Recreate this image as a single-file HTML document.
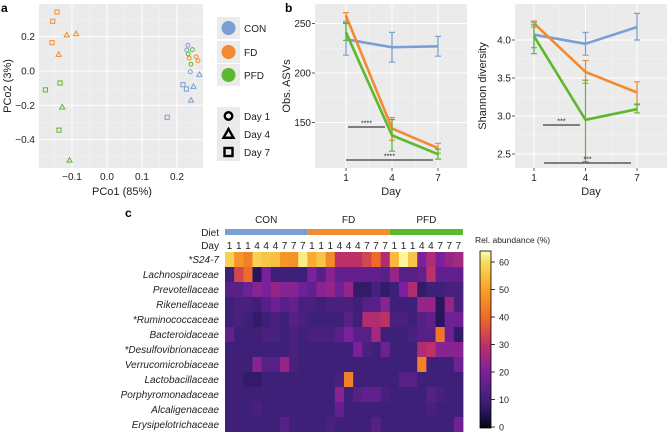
<!DOCTYPE html>
<html><head><meta charset="utf-8"><style>
body{margin:0;background:#fff;font-family:"Liberation Sans",sans-serif}
svg{display:block}
text{font-family:"Liberation Sans",sans-serif}
</style></head><body>
<svg id="fig" width="668" height="432" viewBox="0 0 668 432"></svg>
<script>
// ---- Panel a data ----
const pcoaGroups=['CON','CON','CON','CON','CON','CON','CON','CON','CON','FD','FD','FD','FD','FD','FD','PFD','PFD','PFD','PFD','PFD','PFD','PFD','PFD'];
const pcoaDays=[1,1,1,4,4,4,7,7,7,1,1,1,4,4,4,1,1,1,4,4,7,7,7];
const pcoaX=[0.231,0.228,0.238,0.264,0.247,0.24,0.217,0.227,0.172,0.235,0.255,0.26,-0.115,-0.088,-0.138,0.244,0.232,0.24,-0.128,-0.107,-0.134,-0.176,-0.137];
const pcoaY=[0.15,0.122,-0.005,-0.02,-0.09,-0.17,-0.08,-0.105,-0.27,0.075,0.083,0.06,0.21,0.217,0.097,0.125,0.1,0.04,-0.21,-0.52,-0.07,-0.11,-0.345];
const pcoaFdSqX=[-0.143,-0.155,-0.157];
const pcoaFdSqY=[0.344,0.29,0.165];
const pcoaXTicks=[-0.1,0.0,0.1,0.2];
const pcoaYTicks=[0.2,0.0,-0.2,-0.4];
// ---- Panel b data ----
const days=[1,4,7];
const asvCON=[234,226,227], asvCONlo=[218,211,217], asvCONhi=[251,241,237];
const asvFD=[258,144,124], asvFDlo=[252,132,119], asvFDhi=[261,155,129];
const asvPFD=[241,137,118], asvPFDlo=[233,121,113], asvPFDhi=[250,153,123];
const asvTicks=[150,200,250];
const shCON=[4.07,3.95,4.17], shCONlo=[3.9,3.8,4.0], shCONhi=[4.23,4.1,4.35];
const shFD=[4.22,3.58,3.31], shFDlo=[4.17,3.43,3.16], shFDhi=[4.25,3.73,3.45];
const shPFD=[4.05,2.95,3.09], shPFDlo=[3.82,2.4,3.04], shPFDhi=[4.2,3.47,3.15];
const shTicks=[2.5,3.0,3.5,4.0];
// ---- Panel c data ----
const hmDays=[1,1,1,4,4,4,7,7,7,1,1,1,4,4,4,7,7,7,1,1,1,4,4,7,7,7];
const hmRows=['*S24-7','Lachnospiraceae','Prevotellaceae','Rikenellaceae','*Ruminococcaceae','Bacteroidaceae','*Desulfovibrionaceae','Verrucomicrobiaceae','Lactobacillaceae','Porphyromonadaceae','Alcaligenaceae','Erysipelotrichaceae'];
const hmS24=[58,48,44,58,56,55,48,47,62,52,56,46,30,30,30,34,40,28,54,63,56,20,28,20,24,26];
const hmLachno=[10,34,40,6,20,10,10,10,10,20,14,22,16,16,16,16,16,14,24,14,14,16,30,16,16,16];
const hmPrevo=[14,14,18,22,20,24,22,22,18,16,22,24,18,24,8,8,12,8,10,20,28,8,10,10,12,12];
const hmRiken=[10,12,12,10,14,18,14,16,12,12,10,12,12,12,10,14,14,22,10,10,10,24,24,6,24,12];
const hmRumino=[10,12,10,8,10,12,10,14,12,10,10,10,10,14,10,28,28,30,12,12,10,14,16,6,18,18];
const hmBactero=[16,10,10,10,12,12,10,12,10,12,12,12,14,20,14,14,26,10,10,10,12,14,14,42,18,8];
const hmDesulfo=[10,10,10,10,10,10,10,12,10,10,10,10,10,10,20,12,10,18,10,10,10,28,30,22,22,22];
const hmVerruco=[10,10,10,22,14,14,24,12,10,10,10,10,10,10,10,10,10,10,10,10,10,44,10,10,10,18];
const hmLacto=[10,10,8,8,10,10,10,10,10,10,10,10,12,44,10,10,10,10,10,14,14,10,10,10,10,10];
const hmPorphyro=[10,10,10,10,10,10,10,10,10,10,10,10,22,10,14,16,16,12,10,10,10,10,14,12,10,10];
const hmAlcal=[10,10,10,12,10,10,10,10,10,10,10,10,16,10,10,10,10,10,10,10,10,10,12,10,10,10];
const hmErysi=[10,10,10,10,10,10,14,10,10,10,10,12,10,10,10,10,14,10,10,10,10,10,10,10,10,18];
const cbTicks=[0,10,20,30,40,50,60];

const NS='http://www.w3.org/2000/svg';
const svg=document.getElementById('fig');
const COL={CON:'#7b9fd4',FD:'#f28a30',PFD:'#5cb82f'};
function mk(tag,attrs,parent,text){const e=document.createElementNS(NS,tag);for(const k in attrs)e.setAttribute(k,attrs[k]);if(text!==undefined)e.textContent=text;(parent||svg).appendChild(e);return e;}
function txt(x,y,s,size,anchor,extra){const t=mk('text',Object.assign({x:x,y:y,'font-size':size,'text-anchor':anchor||'start',fill:'#222'},extra||{}),svg,s);return t;}

// ===== Panel a =====
const ax=v=>107+v*350, ay=v=>71-v*171.5;
let el=mk('rect',{x:39,y:4,width:164,height:164,fill:'#ebebeb'});

[-0.15,-0.05,0.05,0.15,0.25].forEach(v=>{el=mk('line',{x1:ax(v),x2:ax(v),y1:4,y2:168,stroke:'#f5f5f5','stroke-width':0.5});});
[0.3,0.1,-0.1,-0.3,-0.5].forEach(v=>{el=mk('line',{y1:ay(v),y2:ay(v),x1:39,x2:203,stroke:'#f5f5f5','stroke-width':0.5});});
pcoaXTicks.forEach(v=>{el=mk('line',{x1:ax(v),x2:ax(v),y1:4,y2:168,stroke:'#fff','stroke-width':1});
 el=txt(ax(v),180,v.toFixed(1).replace('-','\u2212'),10,'middle');});
pcoaYTicks.forEach(v=>{el=mk('line',{y1:ay(v),y2:ay(v),x1:39,x2:203,stroke:'#fff','stroke-width':1});
 el=txt(35,ay(v)+3.5,v.toFixed(1).replace('-','\u2212'),10,'end');});
function shape(day,x,y,c,s,sw){
 if(day===1)return mk('circle',{cx:x,cy:y,r:s*0.75,fill:'none',stroke:c,'stroke-width':sw});
 if(day===4)return mk('polygon',{points:`${x},${y-s} ${x-s},${y+s*0.75} ${x+s},${y+s*0.75}`,fill:'none',stroke:c,'stroke-width':sw});
 return mk('rect',{x:x-s*0.8,y:y-s*0.8,width:s*1.6,height:s*1.6,fill:'none',stroke:c,'stroke-width':sw});
}
pcoaX.forEach((v,i)=>{el=shape(pcoaDays[i],ax(v),ay(pcoaY[i]),COL[pcoaGroups[i]],2.6,1);});
pcoaFdSqX.forEach((v,i)=>{el=shape(7,ax(v),ay(pcoaFdSqY[i]),COL.FD,2.6,1);});
el=txt(122,195,'PCo1 (85%)',11,'middle');
el=txt(0,0,'PCo2 (3%)',11,'middle',{transform:'translate(11,86) rotate(-90)'});
el=txt(1,12,'a',12,'start',{'font-weight':'bold',fill:'#000'});
// legend
[['CON',28],['FD',52],['PFD',75]].forEach(([g,y])=>{
 el=mk('rect',{x:217,y:y-11,width:23,height:22,fill:'#ebebeb'});
 el=mk('circle',{cx:228.5,cy:y,r:7,fill:COL[g]});
 el=txt(244,y+4,g,10,'start');
});
[[1,116],[4,134],[7,152]].forEach(([d,y])=>{
 el=mk('rect',{x:217,y:y-9,width:23,height:18,fill:'#ebebeb'});
 el=shape(d,228.5,y,'#000',5,2.4);
 el=txt(244,y+4,'Day '+d,10,'start');
});

// ===== Panel b =====
function linePanel(name,x0,x1,ys,ticks,tickFmt,series,title,titleX,tickLabX,sig){
 const dx=d=>ys.dx0+(d-1)*(ys.dx1-ys.dx0)/6;
 el=mk('rect',{x:x0,y:4,width:x1-x0,height:164,fill:'#ebebeb'});
 for(let i=0;i<ticks.length-1;i++){const m=(ticks[i]+ticks[i+1])/2;el=mk('line',{x1:x0,x2:x1,y1:ys.f(m),y2:ys.f(m),stroke:'#f5f5f5','stroke-width':0.5});}
 [2.5,5.5].forEach(m=>{el=mk('line',{x1:dx(m),x2:dx(m),y1:4,y2:168,stroke:'#f5f5f5','stroke-width':0.5});});
 ticks.forEach(v=>{el=mk('line',{x1:x0,x2:x1,y1:ys.f(v),y2:ys.f(v),stroke:'#fff','stroke-width':1});
  el=mk('line',{x1:x0-3,x2:x0,y1:ys.f(v),y2:ys.f(v),stroke:'#333','stroke-width':0.8});
  el=txt(tickLabX,ys.f(v)+3.5,tickFmt(v),10,'end');});
 days.forEach(d=>{el=mk('line',{x1:dx(d),x2:dx(d),y1:4,y2:168,stroke:'#fff','stroke-width':1});
  el=mk('line',{x1:dx(d),x2:dx(d),y1:168,y2:171,stroke:'#333','stroke-width':0.8});
  el=txt(dx(d),181,String(d),10,'middle');});
 series.forEach(([g,v,lo,hi])=>{
  days.forEach((d,i)=>{const x=dx(d);
   el=mk('path',{d:`M${x},${ys.f(lo[i])}V${ys.f(hi[i])}M${x-3},${ys.f(lo[i])}h6M${x-3},${ys.f(hi[i])}h6`,stroke:COL[g],'stroke-width':1.2,fill:'none'});});
  el=mk('polyline',{points:days.map((d,i)=>dx(d)+','+ys.f(v[i])).join(' '),stroke:COL[g],'stroke-width':2.6,fill:'none','stroke-linejoin':'round'});
 });
 sig.forEach(([xa,xb,y,s])=>{el=mk('line',{x1:xa,x2:xb,y1:y,y2:y,stroke:'#111','stroke-width':1});
  el=txt((xa+xb)/2,y-1.5,s,7,'middle');});
 el=txt((x0+x1)/2,195,'Day',11,'middle');
 el=txt(0,0,title,11,'middle',{transform:`translate(${titleX},86) rotate(-90)`});
}
linePanel('asv',315,467,{f:v=>73-(v-200)*0.99,dx0:346,dx1:438},asvTicks,v=>String(v),
 [['CON',asvCON,asvCONlo,asvCONhi],['FD',asvFD,asvFDlo,asvFDhi],['PFD',asvPFD,asvPFDlo,asvPFDhi]],'Obs. ASVs',290,311,
 [[348,385,127,'****'],[346,433,160,'****']]);
linePanel('shannon',515,667,{f:v=>40-(v-4)*76,dx0:534,dx1:637},shTicks,v=>v.toFixed(1),
 [['CON',shCON,shCONlo,shCONhi],['FD',shFD,shFDlo,shFDhi],['PFD',shPFD,shPFDlo,shPFDhi]],'Shannon diversity',486,511,
 [[543,580,125,'***'],[544,631,163,'***']]);
el=txt(285,12,'b',12,'start',{'font-weight':'bold',fill:'#000'});

// ===== Panel c heatmap =====
const hmData=[hmS24,hmLachno,hmPrevo,hmRiken,hmRumino,hmBactero,hmDesulfo,hmVerruco,hmLacto,hmPorphyro,hmAlcal,hmErysi];
const stops=[[0,[8,4,24]],[6,[40,22,92]],[10,[62,32,120]],[20,[122,32,156]],[30,[190,48,104]],[40,[238,106,40]],[50,[249,160,40]],[60,[246,222,92]],[64,[252,252,176]]];
function cmap(v){for(let i=1;i<stops.length;i++){if(v<=stops[i][0]){const a=stops[i-1],b=stops[i],t=(v-a[0])/(b[0]-a[0]);return 'rgb('+a[1].map((c,k)=>Math.round(c+(b[1][k]-c)*t)).join(',')+')';}}return 'rgb(252,252,176)';}
const hx0=225,hx1=463,hy0=252,rowH=15,cw=(hx1-hx0)/hmDays.length;
hmData.forEach((row,r)=>{row.forEach((v,c)=>{el=mk('rect',{x:hx0+c*cw,y:hy0+r*rowH,width:cw+0.4,height:rowH+0.4,fill:cmap(v)});});
 el=txt(219,hy0+r*rowH+11,hmRows[r],10,'end',{'font-style':'italic'});});
hmDays.forEach((d,c)=>{el=txt(hx0+(c+0.5)*cw,249,String(d),10,'middle');});
[['CON',0,9],['FD',9,18],['PFD',18,26]].forEach(([g,a,b])=>{
 el=mk('rect',{x:hx0+a*cw,y:229,width:(b-a)*cw,height:6,fill:COL[g]});
 el=txt(hx0+(a+b)/2*cw,223,g,10,'middle');});
el=txt(219,236,'Diet',10,'end');
el=txt(219,249,'Day',10,'end');
el=txt(125,217,'c',12,'start',{'font-weight':'bold',fill:'#000'});
// colorbar
const cbY=v=>427-v*2.75;
const g=mk('linearGradient',{id:'cbg',x1:0,y1:1,x2:0,y2:0},mk('defs',{}));
stops.forEach(s=>mk('stop',{offset:s[0]/64,'stop-color':'rgb('+s[1].join(',')+')'},g));
el=mk('rect',{x:480,y:cbY(64),width:11,height:cbY(0)-cbY(64)+1,fill:'url(#cbg)',stroke:'#000','stroke-width':0.8});
cbTicks.forEach(v=>{el=mk('line',{x1:491,x2:495,y1:cbY(v),y2:cbY(v),stroke:'#000','stroke-width':0.8});
 el=txt(499,cbY(v)+3.5,String(v),9,'start');});
el=txt(475,243,'Rel. abundance (%)',8.5,'start');
</script>
</body></html>
